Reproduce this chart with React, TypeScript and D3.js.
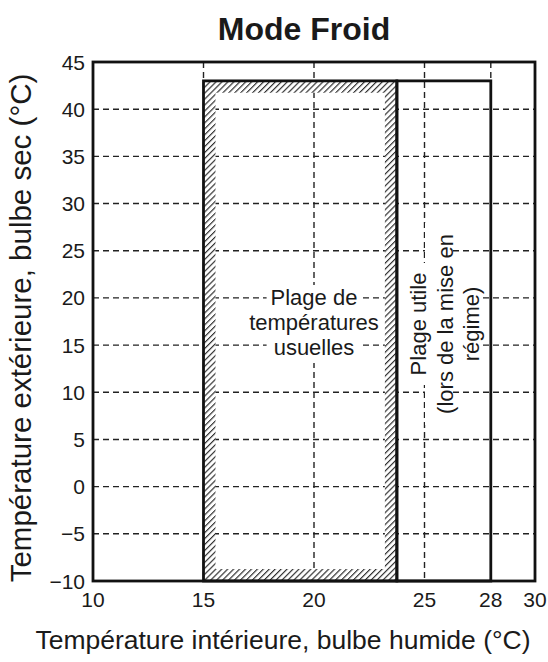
import React from "react";
import * as d3 from "d3";

const xTicks = [10, 15, 20, 25, 28, 30];
const yTicks = [45, 40, 35, 30, 25, 20, 15, 10, 5, 0, -5, -10];
const xGrid = [15, 20, 25, 28];
const yGrid = [40, 35, 30, 25, 20, 15, 10, 5, 0, -5];
const usualRange = { x0: 15, x1: 23.75, y0: -10, y1: 43 };
const usefulRange = { x0: 23.75, x1: 28, y0: -10, y1: 43 };
const usualLabel = ["Plage de", "températures", "usuelles"];
const usefulLabel = ["Plage utile", "(lors de la mise en", "régime)"];

const W = 548;
const H = 662;
const M = { left: 93, top: 62, right: 13, bottom: 81 };
const FONT = "'Liberation Sans', Arial, Helvetica, sans-serif";

export default function App() {
  const x = d3.scaleLinear().domain([10, 30]).range([M.left, W - M.right]);
  const y = d3.scaleLinear().domain([-10, 45]).range([H - M.bottom, M.top]);
  const fmt = (v: number) => (v < 0 ? "\u2212" + Math.abs(v) : String(v));

  const band = 12;
  const ox0 = x(usualRange.x0), ox1 = x(usualRange.x1);
  const oy0 = y(usualRange.y1), oy1 = y(usualRange.y0);
  const bandPath =
    `M${ox0},${oy0}H${ox1}V${oy1}H${ox0}Z` +
    `M${ox0 + band},${oy0 + band}V${oy1 - band}H${ox1 - band}V${oy0 + band}Z`;

  const ucx = x(20);
  const usualYs = [305, 330, 355];
  const usefulXs = [418, 445, 471];
  const usefulCy = 324;
  const textColor = "#1a1a1a";
  const inFs = 22;

  return (
    <svg width={W} height={H} style={{ position: "absolute", left: 0, top: 0, background: "#fff" }} fontFamily={FONT}>
      <defs>
        <pattern id="hatch" patternUnits="userSpaceOnUse" width={4.2} height={4.2} patternTransform="rotate(45)">
          <rect width={4.2} height={4.2} fill="#fff" />
          <line x1={0.6} y1={0} x2={0.6} y2={4.2} stroke="#222" strokeWidth={1.1} />
        </pattern>
      </defs>
      <rect width={W} height={H} fill="#fff" />
      <text x={304} y={40} textAnchor="middle" fontSize={32} fontWeight="bold" fill={textColor}>
        Mode Froid
      </text>
      {/* grid */}
      <g stroke="#222" strokeWidth={1.4} strokeDasharray="6,4">
        {yGrid.map((v) => (
          <line key={"y" + v} x1={x(10)} x2={x(30)} y1={y(v)} y2={y(v)} />
        ))}
        {xGrid.map((v) => (
          <line key={"x" + v} x1={x(v)} x2={x(v)} y1={y(45)} y2={y(-10)} />
        ))}
      </g>
      {/* label backgrounds */}
      {usualLabel.map((t, i) => (
        <rect key={"ub" + i} x={ucx - (t.length * 10.6) / 2 - 5} y={usualYs[i] - 20} width={t.length * 10.6 + 10} height={28} fill="#fff" />
      ))}
      {usefulLabel.map((t, i) => (
        <rect key={"fb" + i} x={usefulXs[i] - 20} y={usefulCy - (t.length * 10) / 2 - 6} width={28} height={t.length * 10 + 12} fill="#fff" />
      ))}
      {/* hatched band */}
      <path d={bandPath} fill="url(#hatch)" fillRule="evenodd" />
      <rect x={x(usualRange.x0)} y={y(usualRange.y1)} width={x(usualRange.x1) - x(usualRange.x0)} height={y(usualRange.y0) - y(usualRange.y1)} fill="none" stroke="#111" strokeWidth={2.8} />
      <rect x={x(usefulRange.x0)} y={y(usefulRange.y1)} width={x(usefulRange.x1) - x(usefulRange.x0)} height={y(usefulRange.y0) - y(usefulRange.y1)} fill="none" stroke="#111" strokeWidth={2.8} />
      {/* frame */}
      <rect x={x(10)} y={y(45)} width={x(30) - x(10)} height={y(-10) - y(45)} fill="none" stroke="#111" strokeWidth={2.8} />
      {/* labels */}
      {usualLabel.map((t, i) => (
        <text key={"u" + i} x={ucx} y={usualYs[i]} textAnchor="middle" fontSize={inFs} fill={textColor}>
          {t}
        </text>
      ))}
      {usefulLabel.map((t, i) => (
        <text key={"f" + i} transform={`translate(${usefulXs[i]},${usefulCy}) rotate(-90)`} textAnchor="middle" dy="0.35em" fontSize={inFs} fill={textColor}>
          {t}
        </text>
      ))}
      {/* tick labels */}
      {yTicks.map((v) => (
        <text key={"yt" + v} x={x(10) - 8} y={y(v)} dy="0.36em" textAnchor="end" fontSize={21} fill={textColor}>
          {fmt(v)}
        </text>
      ))}
      {xTicks.map((v) => (
        <text key={"xt" + v} x={x(v)} y={607} textAnchor="middle" fontSize={21} fill={textColor}>
          {fmt(v)}
        </text>
      ))}
      <text x={283} y={649} textAnchor="middle" fontSize={26.5} fill={textColor}>
        Température intérieure, bulbe humide (°C)
      </text>
      <text transform={`translate(31,${328}) rotate(-90)`} textAnchor="middle" fontSize={29.5} fill={textColor}>
        Température extérieure, bulbe sec (°C)
      </text>
    </svg>
  );
}
